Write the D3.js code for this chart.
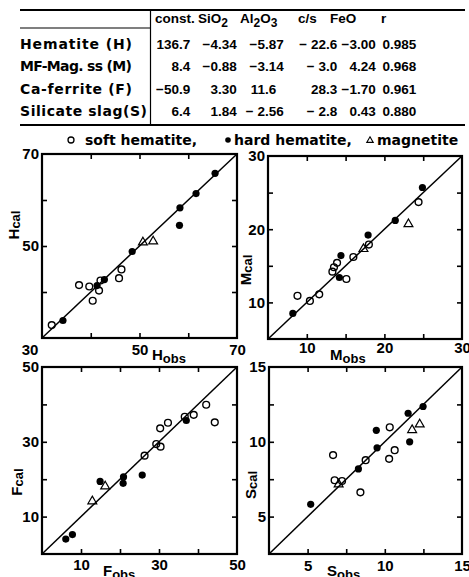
<!DOCTYPE html>
<html>
<head>
<meta charset="utf-8">
<script src="https://cdn.jsdelivr.net/npm/d3@7"></script>
<style>
  body { margin: 0; background: #fff; }
  svg { display: block; }
</style>
</head>
<body>
<svg id="chart" width="469" height="577"></svg>
<script>
// regression table
const tableColumns = ["const.", "SiO|2", "Al|2|O|3", "c/s", "FeO", "r"];
const tableRows = ["Hematite (H)", "MF-Mag. ss (M)", "Ca-ferrite  (F)", "Silicate slag(S)"];
const tableValues = [
  ["136.7", "−4.34", "−5.87", "− 22.6", "−3.00", "0.985"],
  ["8.4", "−0.88", "−3.14", "− 3.0", "4.24", "0.968"],
  ["−50.9", "3.30", "11.6", "28.3", "−1.70", "0.961"],
  ["6.4", "1.84", "− 2.56", "− 2.8", "0.43", "0.880"]
];
const legendLabels = ["soft hematite,", "hard hematite,", "magnetite"];

// hematite (H)
const hSoft = [[32.0, 32.8], [37.6, 41.5], [39.7, 41.2], [40.4, 38.1], [41.7, 40.3], [42.0, 42.5], [45.8, 43.0], [46.3, 44.9]];
const hHard = [[34.3, 33.8], [41.3, 41.4], [42.8, 42.7], [48.5, 48.8], [58.2, 54.5], [58.3, 58.3], [61.6, 61.4], [65.5, 65.8]];
const hMag = [[50.7, 50.8], [52.8, 51.0]];
const hTickLabels = [50, 70];

// MF-magnetite ss (M)
const mSoft = [[8.8, 10.9], [10.4, 10.2], [11.6, 11.1], [13.3, 14.2], [13.5, 14.8], [13.9, 15.4], [15.1, 13.2], [16.0, 16.2], [18.0, 17.9], [24.4, 23.7]];
const mHard = [[8.2, 8.5], [14.4, 16.4], [14.2, 13.4], [17.9, 19.2], [21.4, 21.2], [24.9, 25.7]];
const mMag = [[17.3, 17.3], [23.1, 20.7]];
const mTickLabels = [10, 20, 30];

// Ca-ferrite (F)
const fSoft = [[26.3, 26.3], [29.3, 29.4], [30.4, 28.7], [30.3, 33.6], [32.3, 35.1], [36.6, 36.7], [38.9, 37.2], [42.1, 39.9], [44.3, 35.2]];
const fHard = [[6.1, 4.0], [7.8, 5.2], [14.9, 19.4], [20.9, 20.6], [20.8, 18.9], [25.7, 21.1], [37.0, 35.7]];
const fMag = [[12.9, 14.1], [16.2, 18.1]];
const fTickLabels = [10, 30, 50];

// silicate slag (S)
const sSoft = [[6.65, 9.11], [6.75, 7.43], [7.23, 7.38], [8.42, 6.62], [8.76, 8.77], [10.28, 8.86], [10.32, 10.97], [10.64, 9.44]];
const sHard = [[5.2, 5.82], [8.29, 8.19], [9.5, 9.6], [9.45, 10.77], [11.51, 11.91], [11.61, 10.0], [12.48, 12.36]];
const sMag = [[7.01, 7.16], [11.77, 10.79], [12.26, 11.17]];
const sTickLabels = [5, 10, 15];

const wordFont = "'DejaVu Sans', sans-serif";
const numFont = "'Liberation Sans', Arial, sans-serif";

let svg = d3.select('#chart');

function drawTable() {
    let g = svg.append('g')
        .attr('font-weight', 'bold')
        .attr('fill', 'black');

    g.append('line').attr('x1', 20).attr('x2', 465).attr('y1', 10).attr('y2', 10)
        .attr('stroke', 'black').attr('stroke-width', 2);
    g.append('line').attr('x1', 20).attr('x2', 150).attr('y1', 28).attr('y2', 28)
        .attr('stroke', 'black').attr('stroke-width', 1.2);
    g.append('line').attr('x1', 150.5).attr('x2', 150.5).attr('y1', 10).attr('y2', 125)
        .attr('stroke', 'black').attr('stroke-width', 1.2);
    g.append('line').attr('x1', 20).attr('x2', 465).attr('y1', 125).attr('y2', 125)
        .attr('stroke', 'black').attr('stroke-width', 2);

    // header, "|" splits normal / subscript parts
    let headX = [155, 198, 240, 298, 330, 381];
    tableColumns.forEach(function (c, i) {
        let t = g.append('text')
            .attr('x', headX[i])
            .attr('y', 23)
            .attr('font-family', numFont);
        c.split('|').forEach(function (part, j) {
            t.append('tspan')
                .attr('dy', j == 0 ? 0 : (j % 2 == 1 ? 4 : -4))
                .attr('font-size', j % 2 == 1 ? 12 : 13.5)
                .text(part);
        });
    });

    let rowY = [49, 71, 94, 116];
    let rowW = [112, 112, 112, 127];
    tableRows.forEach(function (name, i) {
        g.append('text')
            .attr('x', 20).attr('y', rowY[i])
            .attr('font-family', wordFont).attr('font-size', 14)
            .attr('textLength', rowW[i]).attr('lengthAdjust', 'spacing')
            .text(name);
    });

    // numbers are aligned on the decimal point
    let decX = [179, 218, 265, 326, 357, 390];
    tableValues.forEach(function (row, i) {
        row.forEach(function (v, j) {
            let k = v.indexOf('.');
            g.append('text')
                .attr('x', decX[j]).attr('y', rowY[i])
                .attr('text-anchor', 'end')
                .attr('font-family', numFont).attr('font-size', 13.5)
                .text(v.slice(0, k));
            g.append('text')
                .attr('x', decX[j]).attr('y', rowY[i])
                .attr('font-family', numFont).attr('font-size', 13.5)
                .text(v.slice(k));
        });
    });
}

function drawLegend() {
    let g = svg.append('g');
    let cy = 140;
    g.append('circle').attr('cx', 71).attr('cy', cy).attr('r', 3)
        .attr('fill', 'none').attr('stroke', 'black').attr('stroke-width', 1.3);
    g.append('circle').attr('cx', 228).attr('cy', cy).attr('r', 2.8).attr('fill', 'black');
    g.append('path')
        .attr('d', d3.symbol().type(d3.symbolTriangle).size(18)())
        .attr('transform', `translate(370, ${cy + 0.5})`)
        .attr('fill', 'none').attr('stroke', 'black').attr('stroke-width', 1.1);
    let textX = [85, 234, 377];
    legendLabels.forEach(function (l, i) {
        g.append('text')
            .attr('x', textX[i]).attr('y', cy + 5)
            .attr('font-family', wordFont).attr('font-size', 14).attr('font-weight', 'bold')
            .text(l);
    });
}

function scatterPanel(p) {
    let x = d3.scaleLinear().domain(p.domain).range([p.left, p.right]);
    let y = d3.scaleLinear().domain(p.domain).range([p.bottom, p.top]);
    let ticks = d3.range(p.domain[0] + p.step, p.domain[1] - p.step / 2, p.step);

    let g = svg.append('g');

    // inward ticks on all four sides
    let sides = [
        [d3.axisBottom(x), `translate(0,${p.bottom})`],
        [d3.axisTop(x), `translate(0,${p.top})`],
        [d3.axisLeft(y), `translate(${p.left},0)`],
        [d3.axisRight(y), `translate(${p.right},0)`]
    ];
    sides.forEach(function (s) {
        g.append('g')
            .attr('transform', s[1])
            .call(s[0].tickValues(ticks).tickSize(-5).tickSizeOuter(0).tickFormat(''))
            .call(a => a.select('.domain').remove())
            .selectAll('line').attr('stroke-width', 1.6);
    });

    // tick labels
    g.append('g')
        .attr('transform', `translate(${p.left},0)`)
        .call(d3.axisLeft(y).tickValues(p.labels).tickSize(0).tickPadding(3))
        .call(a => a.select('.domain').remove())
        .attr('font-family', numFont).attr('font-size', 15).attr('font-weight', 'bold');
    g.append('g')
        .attr('transform', `translate(0,${p.bottom})`)
        .call(d3.axisBottom(x).tickValues(p.labels.filter(v => v != p.domain[0])).tickSize(0).tickPadding(p.pad))
        .call(a => a.select('.domain').remove())
        .attr('font-family', numFont).attr('font-size', 15).attr('font-weight', 'bold');

    if (p.corner) {
        g.append('text')
            .attr('x', p.left - 12).attr('y', p.bottom + 17)
            .attr('text-anchor', 'middle')
            .attr('font-family', numFont).attr('font-size', 15).attr('font-weight', 'bold')
            .text(p.corner);
    }

    // axis titles
    let yt = g.append('text')
        .attr('transform', `translate(${p.yTitle[0]},${p.yTitle[1]}) rotate(-90)`)
        .attr('text-anchor', 'middle')
        .attr('font-family', numFont).attr('font-weight', 'bold');
    yt.append('tspan').attr('font-size', 15).text(p.letter);
    yt.append('tspan').attr('font-size', 13).attr('dy', 1).text('cal');

    let xt = g.append('text')
        .attr('x', p.xTitle[0]).attr('y', p.xTitle[1])
        .attr('font-family', numFont).attr('font-weight', 'bold');
    xt.append('tspan').attr('font-size', 15).text(p.letter);
    xt.append('tspan').attr('font-size', 13).attr('dy', 3).text('obs');

    // 1:1 line
    g.append('line')
        .attr('x1', x(p.domain[0])).attr('y1', y(p.domain[0]))
        .attr('x2', x(p.domain[1])).attr('y2', y(p.domain[1]))
        .attr('stroke', 'black').attr('stroke-width', 1.5);

    g.selectAll('.soft')
        .data(p.soft)
        .enter().append('circle')
        .attr('cx', d => x(d[0]))
        .attr('cy', d => y(d[1]))
        .attr('r', 3.4)
        .attr('fill', 'none')
        .attr('stroke', 'black')
        .attr('stroke-width', 1.4);

    g.selectAll('.hard')
        .data(p.hard)
        .enter().append('circle')
        .attr('cx', d => x(d[0]))
        .attr('cy', d => y(d[1]))
        .attr('r', 3.6)
        .attr('fill', 'black');

    g.selectAll('.mag')
        .data(p.mag)
        .enter().append('path')
        .attr('d', d3.symbol().type(d3.symbolTriangle).size(34)())
        .attr('transform', d => `translate(${x(d[0])},${y(d[1])})`)
        .attr('fill', 'none')
        .attr('stroke', 'black')
        .attr('stroke-width', 1.2);

    g.append('rect')
        .attr('x', p.left).attr('y', p.top)
        .attr('width', p.right - p.left).attr('height', p.bottom - p.top)
        .attr('fill', 'none').attr('stroke', 'black').attr('stroke-width', 2.2);
}

drawTable();
drawLegend();

scatterPanel({ letter: 'H', left: 42, right: 237, top: 154, bottom: 338, domain: [30, 70], step: 10,
    labels: hTickLabels, pad: 6, corner: '30', soft: hSoft, hard: hHard, mag: hMag,
    yTitle: [19, 225], xTitle: [152, 360] });
scatterPanel({ letter: 'M', left: 268, right: 462, top: 156, bottom: 339, domain: [5, 30], step: 5,
    labels: mTickLabels, pad: 3, soft: mSoft, hard: mHard, mag: mMag,
    yTitle: [251, 270], xTitle: [330, 360] });
scatterPanel({ letter: 'F', left: 42, right: 237, top: 367, bottom: 554, domain: [0, 50], step: 10,
    labels: fTickLabels, pad: 5, soft: fSoft, hard: fHard, mag: fMag,
    yTitle: [22, 482], xTitle: [103, 576] });
scatterPanel({ letter: 'S', left: 269, right: 462, top: 367, bottom: 554, domain: [2.5, 15], step: 2.5,
    labels: sTickLabels, pad: 6, soft: sSoft, hard: sHard, mag: sMag,
    yTitle: [256, 485], xTitle: [327, 576] });
</script>
</body>
</html>
